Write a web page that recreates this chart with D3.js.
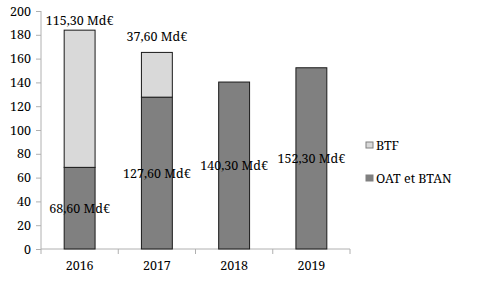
<!DOCTYPE html>
<html><head><meta charset="utf-8">
<script src="https://cdnjs.cloudflare.com/ajax/libs/d3/7.8.5/d3.min.js"></script>
<style>body{margin:0;background:#fff}svg{display:block}</style>
</head><body>
<script>
const years = ["2016","2017","2018","2019"];
const oat = [68.6, 127.6, 140.3, 152.3];
const btf = [115.3, 37.6, 0, 0];
const oatLabels = ["68,60 Md€","127,60 Md€","140,30 Md€","152,30 Md€"];
const btfLabels = ["115,30 Md€","37,60 Md€","",""];
const yTicks = [0,20,40,60,80,100,120,140,160,180,200];
const seriesNames = ["BTF","OAT et BTAN"];
const colors = {BTF:"#d9d9d9", OAT:"#808080"};

const FONT="'Noto Serif', 'Liberation Serif', serif";
const FS="12.5px";
const W=480,H=288;
const svg=d3.select("body").append("svg").attr("width",W).attr("height",H);
const x=d3.scaleBand().domain(years).range([41,350]).paddingInner(0.6).paddingOuter(0.3);
const y=d3.scaleLinear().domain([0,200]).range([249,11]);

function font(sel){ return sel.style("font-family",FONT).style("font-size",FS).attr("fill","#000"); }

// y axis
const ya=svg.append("g").attr("transform","translate(41,0)").call(d3.axisLeft(y).tickValues(yTicks).tickSize(5).tickPadding(5));
ya.selectAll("path,line").attr("stroke","#b0b0b0");
font(ya.selectAll("text"));
ya.select(".domain").attr("d","M0,"+y(200)+"V"+y(0));

// x axis
const xa=svg.append("g").attr("transform","translate(0,249)").call(d3.axisBottom(x).tickSize(0).tickPadding(12));
xa.selectAll("path,line").attr("stroke","#b0b0b0");
xa.select(".domain").attr("d","M41,0H350");
font(xa.selectAll("text"));
const step=x.step();
svg.append("g").selectAll("line").data(d3.range(years.length+1)).join("line")
  .attr("x1",i=>41+i*step).attr("x2",i=>41+i*step).attr("y1",249).attr("y2",254).attr("stroke","#b0b0b0");

// bars
const g=svg.append("g");
years.forEach((yr,i)=>{
  g.append("rect").attr("x",x(yr)).attr("width",x.bandwidth())
    .attr("y",y(oat[i])).attr("height",y(0)-y(oat[i]))
    .attr("fill",colors.OAT).attr("stroke","#1a1a1a").attr("stroke-width",1);
  if(btf[i]>0){
    g.append("rect").attr("x",x(yr)).attr("width",x.bandwidth())
      .attr("y",y(oat[i]+btf[i])).attr("height",y(oat[i])-y(oat[i]+btf[i]))
      .attr("fill",colors.BTF).attr("stroke","#1a1a1a").attr("stroke-width",1);
  }
});
// labels
years.forEach((yr,i)=>{
  const cx=x(yr)+x.bandwidth()/2;
  font(svg.append("text").attr("x",cx).attr("y",y(oat[i]/2)+4.5).attr("text-anchor","middle")).text(oatLabels[i]);
  if(btfLabels[i]){
    font(svg.append("text").attr("x",cx).attr("y",i===0?25:41).attr("text-anchor","middle")).text(btfLabels[i]);
  }
});

// legend
const leg=[{n:seriesNames[0],c:colors.BTF,y:142},{n:seriesNames[1],c:colors.OAT,y:175}];
leg.forEach(l=>{
  svg.append("rect").attr("x",366).attr("y",l.y).attr("width",7).attr("height",6)
    .attr("fill",l.c).attr("stroke","#808080").attr("stroke-width",1);
  font(svg.append("text").attr("x",376).attr("y",l.y+7.5)).text(l.n);
});
</script>
</body></html>
